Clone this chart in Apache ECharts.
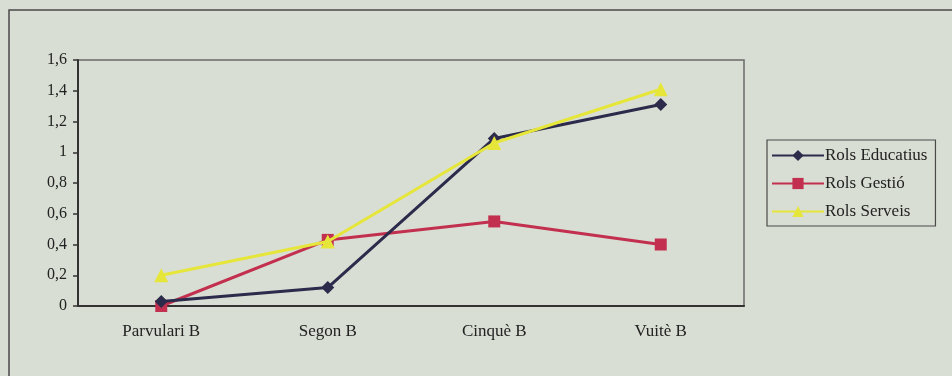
<!DOCTYPE html>
<html>
<head>
<meta charset="utf-8">
<script src="https://cdn.jsdelivr.net/npm/echarts@6/dist/echarts.min.js"></script>
<style>
  html, body { margin: 0; padding: 0; background: #d8ded3; }
  #chart { width: 952px; height: 376px; }
</style>
</head>
<body>
<div id="chart"></div>
<script>
// Categories (school years) and the three role series
const categories = ['Parvulari B', 'Segon B', 'Cinquè B', 'Vuitè B'];
const rolsEducatius = [0.03, 0.12, 1.09, 1.31];
const rolsGestio = [0.0, 0.43, 0.55, 0.40];
const rolsServeis = [0.20, 0.42, 1.06, 1.41];
const seriesNames = ['Rols Educatius', 'Rols Gestió', 'Rols Serveis'];

const font = '"Liberation Serif", "DejaVu Serif", serif';
const comma = v => String(Math.round(v * 10) / 10).replace('.', ',');

const chart = echarts.init(document.getElementById('chart'));
chart.setOption({
  backgroundColor: '#d8ded3',
  animation: false,
  graphic: [
    {
      type: 'rect',
      shape: { x: 9, y: 10, width: 1000, height: 500 },
      style: { fill: 'none', stroke: '#4a4a4a', lineWidth: 1.5 },
      silent: true
    }
  ],
  grid: {
    left: 78, top: 60, width: 666, height: 246,
    show: true, borderColor: '#6a6a6a', borderWidth: 1.5,
    backgroundColor: 'transparent'
  },
  legend: {
    orient: 'vertical',
    left: 767, top: 140,
    itemWidth: 52, itemHeight: 14, itemGap: 11,
    padding: [7, 8, 6, 4],
    borderColor: '#4a4a4a', borderWidth: 1.2,
    textStyle: { fontFamily: font, fontSize: 17, color: '#222', padding: [0, 0, 0, -4] },
    data: seriesNames
  },
  xAxis: {
    type: 'category',
    data: categories,
    boundaryGap: true,
    axisLine: { lineStyle: { color: '#333', width: 2 } },
    axisTick: { length: 5, lineStyle: { color: '#333', width: 1.5 } },
    axisLabel: { fontFamily: font, fontSize: 17, color: '#222', margin: 17 }
  },
  yAxis: {
    type: 'value',
    min: 0, max: 1.6, interval: 0.2,
    axisLine: { show: true, lineStyle: { color: '#333', width: 2 } },
    axisTick: { show: true, length: 5, lineStyle: { color: '#333', width: 1.5 } },
    splitLine: { show: false },
    axisLabel: { fontFamily: font, fontSize: 16, color: '#222', margin: 11, formatter: comma }
  },
  series: [
    {
      name: seriesNames[0], type: 'line', data: rolsEducatius,
      symbol: 'diamond', symbolSize: 13,
      lineStyle: { color: '#2c2b4c', width: 3 },
      itemStyle: { color: '#2c2b4c' },
      z: 3
    },
    {
      name: seriesNames[1], type: 'line', data: rolsGestio,
      symbol: 'rect', symbolSize: 12,
      lineStyle: { color: '#c3304f', width: 3 },
      itemStyle: { color: '#c3304f' },
      z: 2
    },
    {
      name: seriesNames[2], type: 'line', data: rolsServeis,
      symbol: 'triangle', symbolSize: 14,
      lineStyle: { color: '#e6e63a', width: 3 },
      itemStyle: { color: '#e6e63a' },
      z: 4
    }
  ]
});
</script>
</body>
</html>
